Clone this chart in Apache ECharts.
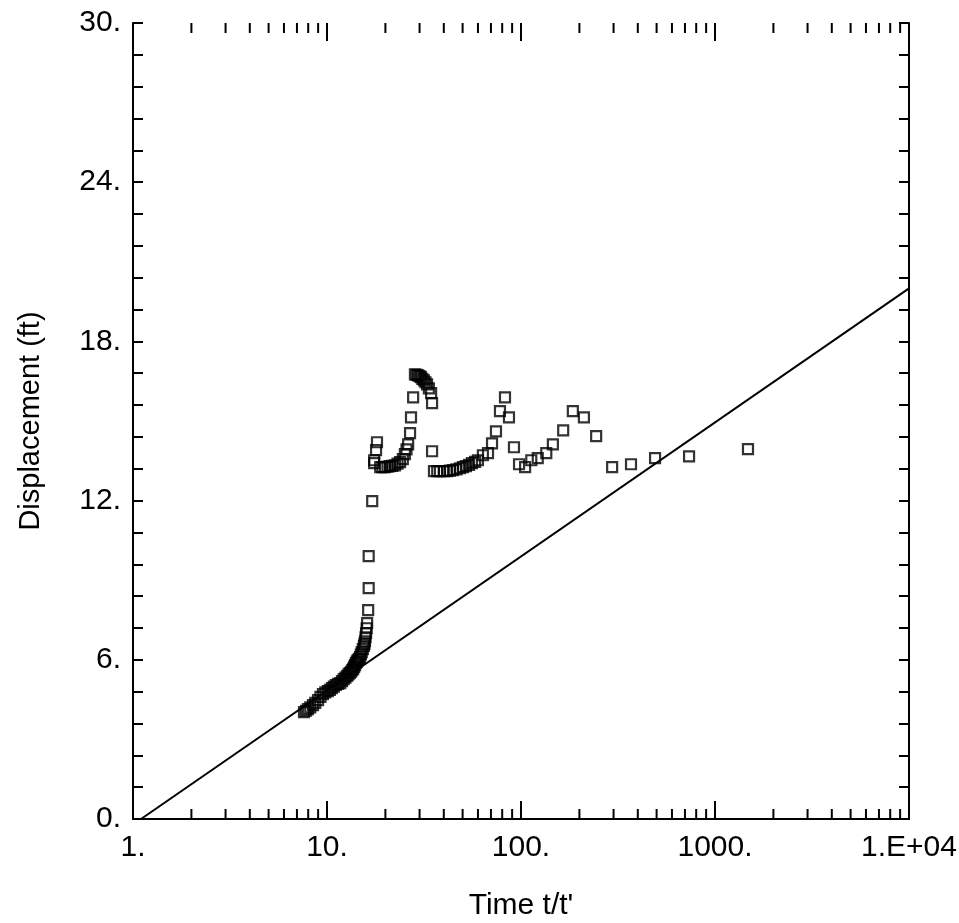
<!DOCTYPE html>
<html>
<head>
<meta charset="utf-8">
<script src="https://cdn.jsdelivr.net/npm/echarts@6/dist/echarts.min.js"></script>
<style>html,body{margin:0;padding:0;background:#fff}#c{width:959px;height:923px}</style>
</head>
<body>
<div id="c"></div>
<script>
// Measured data (time t/t', displacement ft)
var timeValues = [7.61,7.8,7.98,8.2,8.47,8.7,8.99,9.25,9.53,9.8,10.1,10.35,10.6,10.85,11.1,11.4,11.7,11.95,12.2,12.45,12.7,12.9,13.1,13.3,13.5,13.65,13.8,13.95,14.1,14.25,14.4,14.6,14.8,14.95,15.1,15.3,15.5,15.6,15.7,15.8,15.9,16.0,16.1,16.3,16.4,16.4,17.1,
  17.5,17.5,17.9,18.1,18.8,19.3,19.9,20.5,21.1,21.7,22.4,23.1,23.8,24.6,25.2,25.7,26.2,26.8,27.1,27.8,
  28.4,29.0,29.5,30.0,30.5,31.0,31.6,32.2,32.8,33.5,34.4,34.8,34.8,
  35.6,37.0,38.2,40.0,41.6,43.0,44.6,46.5,48.5,50.2,52.0,54.0,55.9,58.0,60.0,63.6,67.6,70.9,74.3,77.9,82.7,86.7,92.0,97.7,
  105,113,122,135,146,165,185,211,244,295,369,491,735,1479];
var displacementValues = [4.03,4.08,4.14,4.21,4.29,4.38,4.48,4.6,4.71,4.77,4.82,4.87,4.93,4.99,5.05,5.09,5.12,5.2,5.27,5.33,5.39,5.45,5.50,5.55,5.61,5.67,5.73,5.8,5.88,5.93,5.99,6.04,6.10,6.2,6.29,6.4,6.52,6.6,6.70,6.85,7.00,7.19,7.38,7.87,8.70,9.91,11.98,
  13.41,13.52,13.90,14.20,13.26,13.26,13.26,13.28,13.30,13.31,13.33,13.39,13.45,13.56,13.75,13.93,14.12,14.54,15.14,15.89,
  16.76,16.74,16.72,16.69,16.65,16.59,16.53,16.46,16.38,16.23,16.05,15.67,13.86,
  13.11,13.11,13.11,13.11,13.11,13.13,13.15,13.18,13.22,13.26,13.30,13.35,13.41,13.46,13.52,13.71,13.79,14.16,14.61,15.37,15.89,15.14,14.01,13.37,
  13.26,13.52,13.60,13.79,14.12,14.65,15.37,15.14,14.43,13.26,13.37,13.60,13.67,13.94];
var lineTime = [1.1, 10000];
var lineDisp = [0, 20];
var xTickLabels = ['1.', '10.', '100.', '1000.', '1.E+04'];
var xMajorTicks = [1, 10, 100, 1000, 10000];
var xMinorTicks = [];
[1, 10, 100, 1000].forEach(function (d) { for (var k = 2; k <= 9; k++) xMinorTicks.push(d * k); });

var scatterData = timeValues.map(function (t, i) { return [t, displacementValues[i]]; });
var lineData = lineTime.map(function (t, i) { return [t, lineDisp[i]]; });
var tickData = xMinorTicks.map(function (v) { return [v, 10]; }).concat(xMajorTicks.map(function (v) { return [v, 18]; }));

var FONT = '"Liberation Sans", Arial, sans-serif';
var chart = echarts.init(document.getElementById('c'), null, { renderer: 'canvas' });
var axisLine = { show: true, lineStyle: { color: '#000', width: 2 } };
chart.setOption({
  animation: false,
  backgroundColor: '#fff',
  grid: { left: 133, right: 50, top: 23, bottom: 104, outerBoundsMode: 'none', containLabel: false },
  xAxis: [{
    type: 'log', logBase: 10, min: 1, max: 10000, position: 'bottom',
    axisLine: axisLine,
    axisTick: { show: false },
    axisLabel: {
      color: '#000', fontFamily: FONT, fontSize: 30, margin: 14,
      formatter: function (v) { return xTickLabels[Math.round(Math.log10(v))]; }
    },
    splitLine: { show: false },
    name: "Time t/t'", nameLocation: 'middle', nameGap: 72,
    nameTextStyle: { color: '#000', fontFamily: FONT, fontSize: 30 }
  }, {
    type: 'log', logBase: 10, min: 1, max: 10000, position: 'top',
    axisLine: axisLine,
    axisTick: { show: false },
    axisLabel: { show: false }, splitLine: { show: false }
  }],
  yAxis: [{
    type: 'value', min: 0, max: 30, interval: 6, position: 'left',
    axisLine: axisLine,
    axisTick: { show: true, inside: true, length: 10, lineStyle: { color: '#000', width: 2 } },
    minorTick: { show: true, splitNumber: 5, length: 10, lineStyle: { color: '#000', width: 2 } },
    axisLabel: {
      color: '#000', fontFamily: FONT, fontSize: 30, margin: 12,
      formatter: function (v) { return v + '.'; }
    },
    splitLine: { show: false },
    name: 'Displacement (ft)', nameLocation: 'middle', nameGap: 88,
    nameTextStyle: { color: '#000', fontFamily: FONT, fontSize: 29 }
  }, {
    type: 'value', min: 0, max: 30, interval: 6, position: 'right',
    axisLine: axisLine,
    axisTick: { show: true, inside: true, length: 10, lineStyle: { color: '#000', width: 2 } },
    minorTick: { show: true, splitNumber: 5, length: 10, lineStyle: { color: '#000', width: 2 } },
    axisLabel: { show: false }, splitLine: { show: false }
  }],
  series: [{
    type: 'line', data: lineData, xAxisIndex: 0, yAxisIndex: 0,
    symbol: 'none', lineStyle: { color: '#000', width: 2 }, z: 2
  }, {
    type: 'scatter', data: scatterData, xAxisIndex: 0, yAxisIndex: 0,
    symbol: 'rect', symbolSize: 10,
    itemStyle: { color: 'rgba(255,255,255,0)', borderColor: '#000', borderWidth: 2.2 }, z: 3
  }, {
    type: 'custom', xAxisIndex: 0, yAxisIndex: 0, silent: true,
    data: tickData,
    encode: { x: 0 },
    renderItem: function (params, api) {
      var v = api.value(0);
      var len = api.value(1);
      var b = api.coord([v, 0]);
      var t = api.coord([v, 30]);
      var st = { stroke: '#000', lineWidth: 2 };
      return {
        type: 'group', children: [
          { type: 'line', shape: { x1: b[0], y1: b[1], x2: b[0], y2: b[1] - len }, style: st },
          { type: 'line', shape: { x1: t[0], y1: t[1], x2: t[0], y2: t[1] + len }, style: st }
        ]
      };
    }, z: 4
  }]
});
</script>
</body>
</html>
